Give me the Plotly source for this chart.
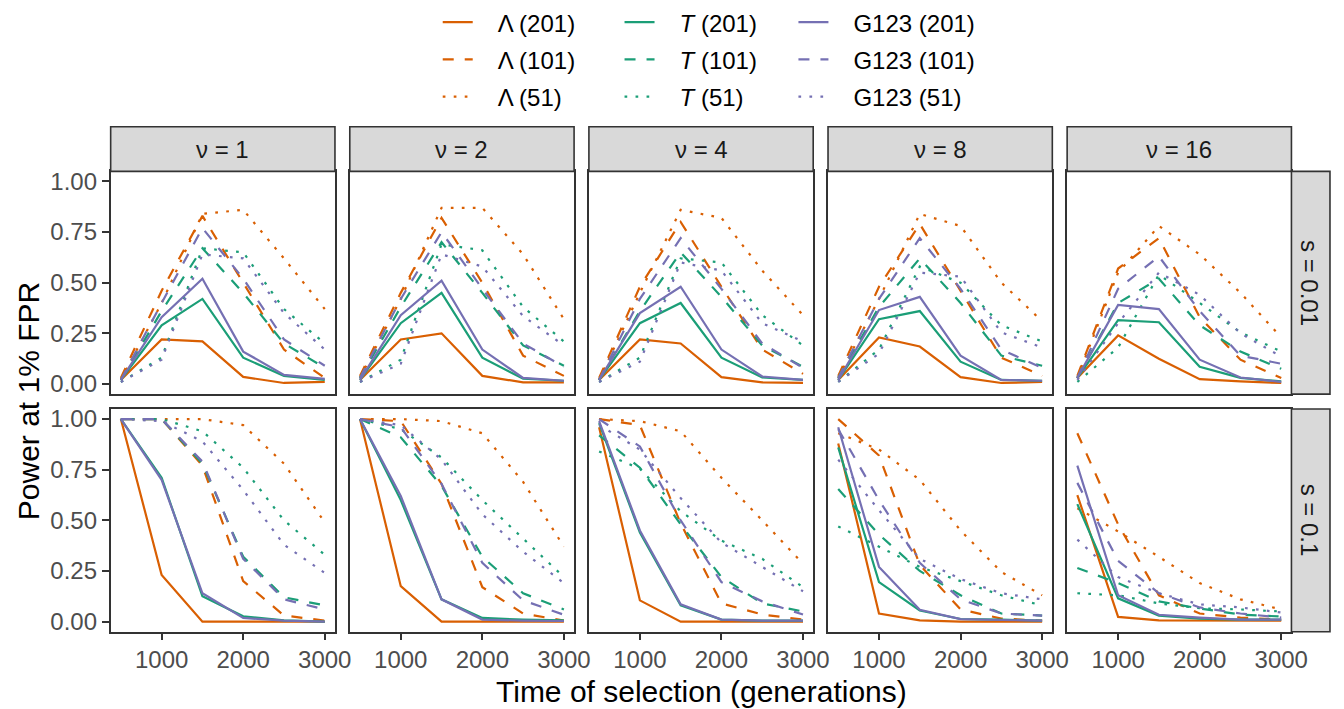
import plotly.graph_objects as go

# ---------------- data ----------------
TIMES = [500, 1000, 1500, 2000, 2500, 3000]
NU_LABELS = ["ν = 1", "ν = 2", "ν = 4", "ν = 8", "ν = 16"]
S_LABELS = ["s = 0.01", "s = 0.1"]
X_TICKS = [1000, 2000, 3000]
X_TICKTEXT = ["1000", "2000", "3000"]
Y_TICKS = [0, 0.25, 0.5, 0.75, 1.0]
Y_TICKTEXT = ["0.00", "0.25", "0.50", "0.75", "1.00"]

# each array: one row per nu (1, 2, 4, 8, 16), values at TIMES
# ---- s = 0.01 ----
LAMBDA_201_S001 = [
    [0.02, 0.22, 0.21, 0.035, 0.005, 0.01],
    [0.02, 0.22, 0.25, 0.04, 0.008, 0.008],
    [0.02, 0.22, 0.20, 0.034, 0.008, 0.005],
    [0.02, 0.23, 0.185, 0.034, 0.005, 0.01],
    [0.03, 0.24, 0.125, 0.024, 0.013, 0.005],
]
T_201_S001 = [
    [0.02, 0.29, 0.42, 0.13, 0.04, 0.02],
    [0.02, 0.30, 0.45, 0.13, 0.026, 0.016],
    [0.02, 0.30, 0.40, 0.13, 0.032, 0.02],
    [0.02, 0.32, 0.36, 0.11, 0.02, 0.016],
    [0.03, 0.315, 0.305, 0.085, 0.03, 0.013],
]
G123_201_S001 = [
    [0.02, 0.33, 0.52, 0.16, 0.045, 0.025],
    [0.02, 0.34, 0.51, 0.17, 0.03, 0.016],
    [0.02, 0.35, 0.48, 0.17, 0.037, 0.02],
    [0.02, 0.365, 0.43, 0.14, 0.02, 0.016],
    [0.03, 0.39, 0.37, 0.12, 0.032, 0.01],
]
LAMBDA_101_S001 = [
    [0.03, 0.46, 0.83, 0.50, 0.17, 0.03],
    [0.04, 0.45, 0.82, 0.50, 0.14, 0.04],
    [0.03, 0.48, 0.80, 0.48, 0.17, 0.05],
    [0.04, 0.48, 0.79, 0.46, 0.13, 0.04],
    [0.04, 0.57, 0.72, 0.33, 0.12, 0.03],
]
T_101_S001 = [
    [0.02, 0.36, 0.67, 0.45, 0.20, 0.08],
    [0.03, 0.38, 0.70, 0.45, 0.19, 0.09],
    [0.02, 0.36, 0.65, 0.43, 0.19, 0.085],
    [0.03, 0.38, 0.62, 0.40, 0.14, 0.09],
    [0.03, 0.40, 0.52, 0.29, 0.16, 0.075],
]
G123_101_S001 = [
    [0.02, 0.40, 0.77, 0.52, 0.22, 0.09],
    [0.03, 0.42, 0.75, 0.47, 0.20, 0.085],
    [0.02, 0.42, 0.72, 0.47, 0.20, 0.08],
    [0.03, 0.42, 0.72, 0.47, 0.17, 0.08],
    [0.03, 0.47, 0.63, 0.36, 0.14, 0.10],
]
LAMBDA_51_S001 = [
    [0.02, 0.40, 0.84, 0.86, 0.62, 0.37],
    [0.03, 0.42, 0.87, 0.87, 0.64, 0.32],
    [0.02, 0.45, 0.86, 0.82, 0.56, 0.34],
    [0.03, 0.42, 0.84, 0.78, 0.50, 0.31],
    [0.03, 0.55, 0.78, 0.64, 0.45, 0.23],
]
T_51_S001 = [
    [0.01, 0.13, 0.67, 0.65, 0.37, 0.20],
    [0.01, 0.12, 0.69, 0.66, 0.38, 0.21],
    [0.01, 0.13, 0.62, 0.60, 0.34, 0.19],
    [0.01, 0.17, 0.58, 0.50, 0.29, 0.21],
    [0.01, 0.18, 0.54, 0.40, 0.255, 0.16],
]
G123_51_S001 = [
    [0.01, 0.12, 0.64, 0.62, 0.35, 0.17],
    [0.01, 0.10, 0.64, 0.58, 0.335, 0.19],
    [0.01, 0.11, 0.60, 0.56, 0.30, 0.21],
    [0.01, 0.15, 0.55, 0.53, 0.255, 0.18],
    [0.02, 0.30, 0.55, 0.44, 0.25, 0.135],
]
# ---- s = 0.1 ----
LAMBDA_201_S01 = [
    [1.0, 0.23, 0.0, 0.0, 0.0, 0.0],
    [1.0, 0.175, 0.0, 0.0, 0.0, 0.0],
    [0.96, 0.105, 0.0, 0.0, 0.0, 0.0],
    [0.88, 0.04, 0.006, 0.0, 0.0, 0.0],
    [0.625, 0.023, 0.006, 0.005, 0.005, 0.005],
]
T_201_S01 = [
    [1.0, 0.71, 0.125, 0.026, 0.006, 0.0],
    [1.0, 0.60, 0.11, 0.018, 0.01, 0.006],
    [0.98, 0.44, 0.08, 0.01, 0.005, 0.005],
    [0.86, 0.195, 0.055, 0.013, 0.01, 0.005],
    [0.58, 0.115, 0.03, 0.015, 0.01, 0.01],
]
G123_201_S01 = [
    [1.0, 0.70, 0.14, 0.018, 0.005, 0.0],
    [1.0, 0.62, 0.11, 0.01, 0.005, 0.003],
    [0.99, 0.45, 0.085, 0.01, 0.005, 0.005],
    [0.96, 0.27, 0.058, 0.012, 0.008, 0.005],
    [0.77, 0.13, 0.034, 0.02, 0.01, 0.01],
]
LAMBDA_101_S01 = [
    [1.0, 1.0, 0.77, 0.20, 0.03, 0.005],
    [1.0, 0.99, 0.68, 0.17, 0.04, 0.005],
    [1.0, 0.97, 0.485, 0.09, 0.035, 0.01],
    [1.0, 0.82, 0.28, 0.06, 0.015, 0.005],
    [0.93, 0.48, 0.13, 0.04, 0.02, 0.01],
]
T_101_S01 = [
    [1.0, 1.0, 0.78, 0.32, 0.12, 0.08],
    [1.0, 0.91, 0.67, 0.32, 0.14, 0.06],
    [0.92, 0.76, 0.48, 0.22, 0.09, 0.05],
    [0.655, 0.43, 0.25, 0.13, 0.04, 0.03],
    [0.265, 0.19, 0.10, 0.065, 0.035, 0.025],
]
G123_101_S01 = [
    [1.0, 1.0, 0.79, 0.31, 0.11, 0.06],
    [1.0, 0.96, 0.68, 0.29, 0.105, 0.034],
    [1.0, 0.865, 0.50, 0.195, 0.10, 0.035],
    [0.95, 0.60, 0.29, 0.11, 0.04, 0.03],
    [0.685, 0.30, 0.14, 0.07, 0.04, 0.02],
]
LAMBDA_51_S01 = [
    [1.0, 1.0, 1.0, 0.97, 0.78, 0.49],
    [1.0, 1.0, 0.99, 0.93, 0.69, 0.37],
    [1.0, 0.99, 0.94, 0.71, 0.50, 0.285],
    [0.93, 0.85, 0.70, 0.45, 0.245, 0.13],
    [0.56, 0.445, 0.32, 0.19, 0.11, 0.06],
]
T_51_S01 = [
    [1.0, 1.0, 0.94, 0.76, 0.50, 0.33],
    [1.0, 0.95, 0.81, 0.60, 0.41, 0.22],
    [0.84, 0.755, 0.545, 0.40, 0.31, 0.17],
    [0.47, 0.37, 0.27, 0.20, 0.13, 0.08],
    [0.14, 0.13, 0.09, 0.066, 0.06, 0.05],
]
G123_51_S01 = [
    [1.0, 0.99, 0.89, 0.65, 0.38, 0.24],
    [1.0, 0.97, 0.80, 0.53, 0.345, 0.19],
    [0.97, 0.85, 0.61, 0.39, 0.27, 0.15],
    [0.80, 0.55, 0.31, 0.21, 0.14, 0.11],
    [0.405, 0.22, 0.14, 0.085, 0.07, 0.045],
]

ORANGE, GREEN, PURPLE = "#D95F02", "#1B9E77", "#7570B3"
DASH = {"201": "solid", "101": "11px,11px", "51": "2.7px,8.3px"}

SERIES = [
    # (legend label, window, colour, legend id, s=0.01 data, s=0.1 data)
    ("Λ (201)", "201", ORANGE, "legend", LAMBDA_201_S001, LAMBDA_201_S01),
    ("Λ (101)", "101", ORANGE, "legend", LAMBDA_101_S001, LAMBDA_101_S01),
    ("Λ (51)", "51", ORANGE, "legend", LAMBDA_51_S001, LAMBDA_51_S01),
    ("<i>T</i> (201)", "201", GREEN, "legend2", T_201_S001, T_201_S01),
    ("<i>T</i> (101)", "101", GREEN, "legend2", T_101_S001, T_101_S01),
    ("<i>T</i> (51)", "51", GREEN, "legend2", T_51_S001, T_51_S01),
    ("G123 (201)", "201", PURPLE, "legend3", G123_201_S001, G123_201_S01),
    ("G123 (101)", "101", PURPLE, "legend3", G123_101_S001, G123_101_S01),
    ("G123 (51)", "51", PURPLE, "legend3", G123_51_S001, G123_51_S01),
]

# ---------------- layout geometry (pixels) ----------------
W, H = 1344, 709
COL_LEFT = [112, 354, 596, 838, 1080]
PANEL_W = 227
ROW_TOP = [169, 409]
PANEL_H = 225
STRIP_TOP = 124
RIGHT_STRIP_R = 1344
FONT = "Liberation Sans, Arial, sans-serif"
TICK_COLOR = "#4D4D4D"
FRAME = "#333333"
SMALL = 24
BIG = 30
NBSP = "\u00a0"

def px(x):
    return x / W

def py(y):
    return 1 - y / H

fig = go.Figure()
layout = {}

for r in range(2):
    for c in range(5):
        i = r * 5 + c + 1
        xa = "xaxis" if i == 1 else f"xaxis{i}"
        ya = "yaxis" if i == 1 else f"yaxis{i}"
        xr = "x" if i == 1 else f"x{i}"
        yr = "y" if i == 1 else f"y{i}"
        left = COL_LEFT[c]
        top = ROW_TOP[r]
        layout[xa] = dict(
            domain=[px(left), px(left + PANEL_W)], anchor=yr,
            range=[375, 3125], tickvals=X_TICKS, ticktext=X_TICKTEXT,
            showticklabels=(r == 1), ticks="outside" if r == 1 else "",
            ticklen=6, tickwidth=1.5, tickcolor=FRAME,
            showline=True, mirror=True, linecolor=FRAME, linewidth=1.6,
            showgrid=False, zeroline=False,
            tickfont=dict(family=FONT, size=SMALL, color=TICK_COLOR),
        )
        layout[ya] = dict(
            domain=[py(top + PANEL_H), py(top)], anchor=xr,
            range=[-0.05, 1.05], tickvals=Y_TICKS, ticktext=Y_TICKTEXT,
            showticklabels=(c == 0), ticks="outside" if c == 0 else "",
            ticklen=7, tickwidth=1.5, tickcolor=FRAME,
            showline=True, mirror=True, linecolor=FRAME, linewidth=1.6,
            showgrid=False, zeroline=False,
            tickfont=dict(family=FONT, size=SMALL, color=TICK_COLOR),
        )
        for k, (label, win, col, leg, d001, d01) in enumerate(SERIES):
            vals = (d001 if r == 0 else d01)[c]
            fig.add_trace(go.Scatter(
                x=TIMES, y=vals, xaxis=xr, yaxis=yr, mode="lines",
                line=dict(color=col, width=2.2, dash=DASH[win]),
                name=NBSP * 3 + label, legendgroup=label, legend=leg,
                showlegend=(i == 1), legendrank=k + 1,
                hovertemplate=f"{label}<br>%{{x}}: %{{y:.2f}}<extra></extra>",
            ))

shapes = []
annotations = []
# top strips
for c in range(5):
    left = COL_LEFT[c]
    shapes.append(dict(type="rect", xref="paper", yref="paper",
                       x0=px(left), x1=px(left + PANEL_W), y0=py(ROW_TOP[0]), y1=py(STRIP_TOP),
                       fillcolor="#D9D9D9", line=dict(color=FRAME, width=1.6), layer="above"))
    annotations.append(dict(xref="paper", yref="paper", x=px(left + PANEL_W / 2),
                            y=py((STRIP_TOP + ROW_TOP[0]) / 2), text=NU_LABELS[c], showarrow=False,
                            font=dict(family=FONT, size=SMALL, color="#1A1A1A"),
                            xanchor="center", yanchor="middle"))
# right strips
rs_left = COL_LEFT[4] + PANEL_W
for r in range(2):
    top = ROW_TOP[r]
    shapes.append(dict(type="rect", xref="paper", yref="paper",
                       x0=px(rs_left), x1=px(RIGHT_STRIP_R + 2), y0=py(top + PANEL_H), y1=py(top),
                       fillcolor="#D9D9D9", line=dict(color=FRAME, width=1.6), layer="above"))
    annotations.append(dict(xref="paper", yref="paper", x=px((rs_left + RIGHT_STRIP_R) / 2),
                            y=py(top + PANEL_H / 2), text=S_LABELS[r], showarrow=False, textangle=90,
                            font=dict(family=FONT, size=SMALL, color="#1A1A1A"),
                            xanchor="center", yanchor="middle"))
# axis titles
annotations.append(dict(xref="paper", yref="paper", x=px((COL_LEFT[0] + rs_left) / 2), y=py(694),
                        text="Time of selection (generations)", showarrow=False,
                        font=dict(family=FONT, size=BIG, color="black"),
                        xanchor="center", yanchor="middle"))
annotations.append(dict(xref="paper", yref="paper", x=px(29), y=py((ROW_TOP[0] + ROW_TOP[1] + PANEL_H) / 2),
                        text="Power at 1% FPR", showarrow=False, textangle=-90,
                        font=dict(family=FONT, size=BIG, color="black"),
                        xanchor="center", yanchor="middle"))

leg_common = dict(orientation="v", yanchor="top", xanchor="left", y=py(-4),
                  traceorder="grouped", tracegroupgap=3, bgcolor="rgba(0,0,0,0)",
                  font=dict(family=FONT, size=SMALL, color="black"))
layout["legend"] = dict(leg_common, x=px(443))
layout["legend2"] = dict(leg_common, x=px(627))
layout["legend3"] = dict(leg_common, x=px(803))

fig.update_layout(
    width=W, height=H, margin=dict(l=0, r=0, t=0, b=0),
    plot_bgcolor="white", paper_bgcolor="white",
    shapes=shapes, annotations=annotations, **layout,
)

fig.write_html("out.html", config={"displayModeBar": False},
               post_script="document.body.style.margin='0px';document.body.style.overflow='hidden';")
